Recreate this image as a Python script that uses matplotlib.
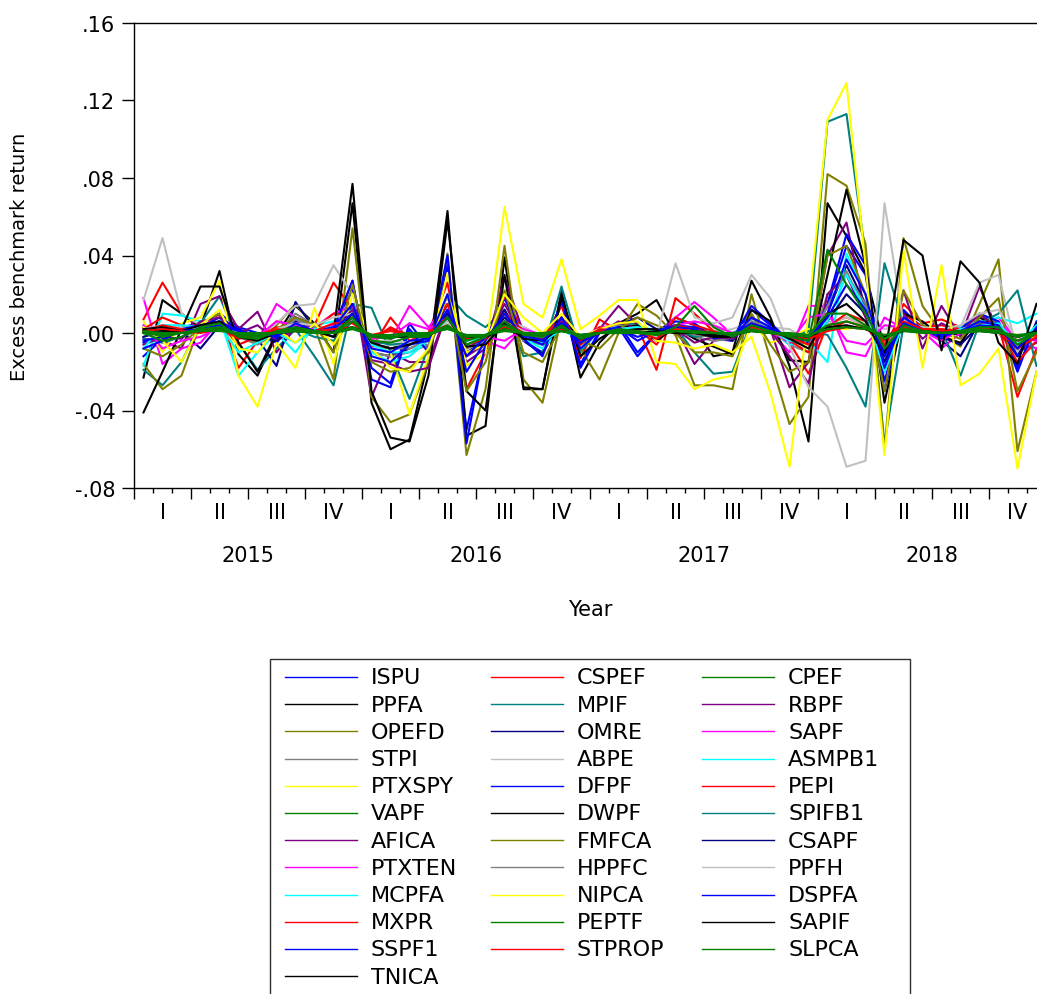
import numpy as np
import matplotlib
matplotlib.use('Agg')
import matplotlib.pyplot as plt
from matplotlib.lines import Line2D
from matplotlib.patches import Rectangle

plt.rcParams['font.family'] = ['DejaVu Sans']
plt.rcParams['font.size'] = 15

years = [2015, 2016, 2017, 2018]
quarters = ['I', 'II', 'III', 'IV']

# monthly excess benchmark returns, Jan 2015 - Dec 2018 (one year per line)
ISPU = [-.012, -.003, .003, .005, .010, .003, .000, -.005, .006, .001, .004, .022,
        -.018, -.026, .005, -.008, .035, -.050, -.006, .018, -.004, -.010, .015, -.016,
        .001, .005, -.010, .000, .008, .004, -.003, -.004, .012, .004, -.004, -.005,
        .014, .045, .030, -.025, .011, .003, -.002, .002, .009, .005, -.018, .004]
CSPEF = [.007, .026, .010, .002, .010, -.018, -.004, .006, .004, .004, .026, .012,
         -.008, .008, -.004, .000, .026, -.029, -.010, .019, .001, -.004, .014, -.013,
         .007, .001, .003, -.019, .018, .010, .001, -.003, .008, .002, -.005, -.021,
         .005, .008, .004, -.010, .015, .005, .007, .003, .008, .004, -.033, -.008]
CPEF = [.001, -.002, .000, .002, .003, -.001, -.002, .000, .002, .001, .000, .006,
        -.002, -.003, .000, -.001, .004, -.004, -.001, .004, .000, -.001, .003, -.002,
        .000, .001, .000, -.001, .001, .001, .000, -.001, .002, .000, -.001, -.002,
        .004, .006, .003, -.003, .002, .001, .000, .001, .002, .001, -.004, .000]
PPFA = [-.023, .017, .010, .003, .032, -.011, -.022, -.001, .014, .005, -.010, .067,
        -.036, -.060, -.055, -.014, .063, -.053, -.048, .039, -.029, -.029, .022, -.023,
        -.005, .005, .010, .017, -.001, .002, -.012, -.010, .027, .008, -.017, -.056,
        .067, .050, .031, -.008, .004, .002, -.002, .000, .004, .002, -.008, .003]
MPIF = [-.019, -.027, -.015, .005, .019, -.005, -.019, -.008, .002, -.012, -.027, .015,
        .013, -.010, -.034, -.007, .020, .009, .003, .012, -.012, -.010, .024, -.010,
        .002, .004, .005, -.002, .003, -.010, -.021, -.020, .006, .002, -.006, .001,
        .109, .113, .040, -.057, .004, .002, -.002, .003, .006, .003, -.010, .002]
RBPF = [-.003, -.004, -.008, .015, .019, .002, .011, -.010, .003, .002, .002, .027,
        -.033, -.010, -.015, -.015, .012, -.015, -.008, .029, .000, -.006, .005, -.005,
        .002, .014, .004, .000, .003, -.016, -.004, -.002, .008, .002, -.028, -.015,
        .040, .057, .010, -.020, .022, -.008, .014, -.002, .024, .000, -.010, -.005]
OPEFD = [-.016, -.029, -.022, .005, .010, -.002, -.005, .004, .015, .003, -.024, .054,
         -.033, -.046, -.042, -.015, .041, -.063, -.029, .045, -.024, -.036, .008, -.008,
         -.024, .000, .015, .009, -.001, -.027, -.027, -.029, .020, -.014, -.047, -.033,
         .082, .076, .046, -.060, .049, .014, .000, -.007, .015, .038, -.061, -.020]
OMRE = [.003, -.002, .001, -.008, .004, .002, -.003, -.017, .016, .002, -.002, .015,
        -.010, -.012, -.008, -.004, .015, -.010, -.004, .012, -.004, -.011, .008, -.006,
        .002, .004, .008, .002, .004, .000, -.002, -.004, .008, .002, -.006, -.004,
        .010, .035, .015, -.015, .008, .002, -.004, -.012, .006, .002, -.012, .002]
SAPF = [.018, -.016, -.008, -.005, .006, -.002, -.004, .015, .008, .003, .010, .014,
        -.006, -.004, .014, .003, .015, -.006, -.004, -.008, .003, -.002, .006, -.004,
        .003, .004, .002, -.002, .008, .016, .008, -.001, .005, .001, -.010, .014,
        .014, -.010, -.012, .008, .002, .001, -.008, .000, .004, .008, -.004, -.008]
STPI = [-.002, .002, .003, .001, .005, -.002, -.006, .000, .010, .004, .000, .010,
        -.010, -.012, -.010, -.006, .010, -.012, -.006, .010, -.004, -.006, .006, -.004,
        .000, .004, .003, .000, .004, -.002, -.004, -.003, .008, .003, -.006, -.010,
        .020, .030, .015, -.012, .008, .002, .000, .001, .008, .006, -.010, .002]
ABPE = [.017, .049, .010, .004, .006, .000, -.004, .005, .014, .015, .035, .020,
        -.008, -.006, -.008, -.004, .010, -.006, -.003, .008, .003, -.002, .005, -.003,
        .002, .003, .004, .000, .004, .002, .001, .002, .006, .003, .002, -.004,
        .005, .008, .004, .002, .005, .003, .000, .003, .026, .030, -.010, .000]
ASMPB1 = [-.017, .010, .009, .006, .008, -.022, -.010, .000, -.010, .004, .006, .012,
          -.010, -.015, -.012, -.004, .010, -.006, -.002, .006, -.003, -.008, .002, -.004,
          .002, .003, .004, .001, .003, .002, .001, -.001, .006, .002, -.006, -.004,
          -.015, .041, .020, -.010, .006, .004, .000, .003, .006, .008, .005, .010]
PTXSPY = [.006, -.010, .005, .008, .027, -.022, -.038, -.005, -.018, .013, -.016, .020,
          -.005, -.010, -.042, -.012, .031, -.017, -.010, .065, .015, .008, .038, .002,
          .009, .017, .017, -.015, -.016, -.029, -.024, -.022, .005, -.005, -.002, .002,
          .003, .002, .004, -.004, .003, .002, -.001, .001, .002, .000, -.006, -.002]
DFPF = [-.005, .000, .003, .003, .008, .002, -.002, -.003, .008, .002, .002, .027,
        -.024, -.028, .002, -.010, .040, -.057, -.005, .020, -.003, -.012, .017, -.018,
        .000, .003, -.012, .000, .006, .005, -.002, -.003, .014, .005, -.004, -.005,
        .015, .051, .035, -.030, .012, .002, -.003, .002, .010, .006, -.020, .006]
PEPI = [.002, .008, .004, .001, .005, -.006, -.002, .003, .002, .002, .010, .008,
        -.004, .003, -.002, .000, .015, -.012, -.005, .010, .001, -.002, .008, -.006,
        .003, .001, .002, -.006, .008, .004, .001, -.002, .005, .001, -.004, -.010,
        .003, .010, .006, -.006, .010, .003, .004, .002, .005, .002, -.015, -.004]
VAPF = [.000, -.004, -.002, .003, .005, -.002, -.003, .001, .003, .001, .000, .008,
        -.004, -.005, -.002, -.002, .008, -.006, -.002, .006, -.001, -.002, .004, -.003,
        .000, .002, .001, -.001, .003, .014, .003, -.002, .004, .001, -.002, -.004,
        .043, .025, .010, -.008, .004, .001, .000, .001, .003, .003, -.006, .000]
DWPF = [-.041, -.020, .002, .024, .024, -.005, -.020, .000, .008, .004, .000, .077,
        -.030, -.054, -.056, -.022, .058, -.030, -.040, .030, -.028, -.029, .019, -.012,
        -.003, .003, .004, -.004, .003, -.003, -.007, -.011, .012, .006, -.014, -.015,
        .030, .074, .035, -.036, .010, .006, -.002, -.005, .008, .003, -.012, .005]
SPIFB1 = [-.003, -.005, -.002, .002, .004, -.001, -.003, -.001, .002, -.002, -.004, .006,
          -.004, -.006, -.005, -.002, .006, -.003, -.002, .004, -.002, -.002, .004, -.003,
          .001, .002, .001, .000, .002, -.002, -.001, .000, .004, .001, -.003, .001,
          -.001, -.018, -.038, .036, .005, .000, .002, -.022, .005, .010, .022, -.017]
AFICA = [-.006, -.002, -.003, .006, .008, .000, .004, -.004, .002, .000, .002, .012,
         -.014, -.016, -.020, -.018, .012, -.012, -.005, .015, -.003, -.003, .006, -.005,
         .000, .006, .002, -.002, .002, -.005, -.002, -.003, .005, .001, -.012, -.026,
         .020, .030, .008, -.012, .010, -.003, .005, .000, .010, .002, -.006, -.003]
FMFCA = [-.008, -.012, -.006, .003, .005, -.002, -.004, .002, .008, .004, -.010, .025,
         -.015, -.020, -.018, -.010, .020, -.030, -.015, .022, -.010, -.015, .004, -.004,
         -.008, .002, .008, .004, .000, -.010, -.010, -.012, .010, -.006, -.020, -.015,
         .040, .045, .020, -.030, .022, .004, .000, -.003, .008, .018, -.030, -.010]
CSAPF = [-.002, .001, .002, .001, .004, .000, -.002, -.004, .006, .001, .000, .008,
         -.006, -.008, -.006, -.002, .010, -.008, -.003, .008, -.002, -.005, .004, -.004,
         .001, .002, .003, .001, .002, .000, -.001, -.002, .005, .001, -.003, -.003,
         .006, .020, .010, -.010, .005, .001, -.002, -.006, .004, .001, -.008, .001]
PTXTEN = [.004, -.008, -.004, -.002, .003, -.001, -.002, .006, .004, .002, .004, .006,
          -.003, -.002, .005, .002, .008, -.003, -.002, -.004, .002, -.001, .003, -.002,
          .002, .002, .001, -.001, .004, .006, .004, .000, .002, .001, -.005, .008,
          .010, -.004, -.006, .004, .003, .001, -.004, .002, .002, .004, -.002, -.004]
HPPFC = [.000, .002, .002, .001, .004, -.001, -.004, .000, .007, .003, .002, .008,
         -.006, -.008, -.008, -.004, .008, -.008, -.004, .006, -.002, -.004, .004, -.002,
         .000, .002, .002, .000, .003, -.001, -.002, -.002, .006, .002, -.004, -.006,
         .014, .032, .010, -.008, .006, .002, .000, .001, .006, .004, -.006, .001]
PPFH = [.002, .004, .003, .002, .004, .000, -.002, .002, .005, .004, .008, .010,
        -.004, -.004, -.005, -.002, .006, -.004, -.002, .006, .001, -.002, .003, -.002,
        .002, .002, .003, -.002, .036, .008, .005, .008, .030, .018, -.007, -.028,
        -.038, -.069, -.066, .067, .005, .003, .002, .004, .010, .012, -.004, .002]
MCPFA = [-.008, .004, .004, .003, .004, -.010, -.005, .000, -.005, .002, .003, .008,
         -.006, -.010, -.010, -.003, .008, -.004, -.002, .004, -.002, -.005, .002, -.003,
         .001, .002, .003, .001, .002, .001, .000, -.001, .004, .001, -.004, -.003,
         .006, .030, .012, -.020, .005, .002, -.002, .002, .004, .005, -.006, .004]
NIPCA = [.003, -.004, -.015, .004, .012, -.008, -.010, .002, -.005, .005, -.006, .010,
         -.008, -.018, -.020, -.008, .020, -.010, -.006, .020, .008, .000, .010, -.002,
         .002, .005, .006, -.004, -.005, -.008, -.006, -.010, -.002, -.031, -.069, .010,
         .110, .129, .035, -.063, .043, -.018, .035, -.027, -.021, -.008, -.070, -.020]
DSPFA = [-.008, -.004, .002, .004, .006, .001, -.001, -.002, .005, .001, .003, .015,
         -.012, -.015, -.006, -.004, .020, -.020, -.004, .010, -.002, -.006, .008, -.008,
         .001, .003, -.004, .001, .004, .003, -.001, -.002, .008, .003, -.003, -.004,
         .010, .038, .020, -.018, .008, .002, -.002, .001, .006, .004, -.012, .003]
MXPR = [.001, .004, .002, .001, .003, -.003, -.001, .002, .001, .001, .005, .005,
        -.002, .002, -.001, .000, .008, -.006, -.003, .006, .000, -.001, .004, -.004,
        .002, .001, .001, -.003, .004, .002, .000, -.001, .003, .000, -.002, -.006,
        .002, .006, .003, -.004, .006, .002, .002, .001, .003, .001, -.008, -.002]
PEPTF = [.000, -.001, .000, .001, .002, -.001, -.001, .000, .001, .000, .000, .003,
         -.001, -.002, -.001, -.001, .003, -.002, -.001, .002, .000, -.001, .001, -.001,
         .000, .000, .000, .000, .001, .001, .000, -.001, .001, .000, -.001, -.001,
         .010, .010, .004, -.003, .002, .001, .000, .000, .001, .001, -.002, .000]
SAPIF = [.002, .003, .001, .004, .006, -.002, -.004, .000, .003, .001, -.002, .010,
         -.005, -.008, -.006, -.002, .008, -.007, -.006, .005, -.003, -.004, .003, -.003,
         .000, .001, .002, .002, .000, .000, -.002, -.002, .004, .002, -.003, -.008,
         .010, .015, .006, -.012, .048, .040, -.009, .037, .026, -.005, -.016, .015]
SSPF1 = [-.004, -.002, .001, .002, .004, .001, -.001, -.001, .003, .001, .002, .010,
         -.008, -.010, -.004, -.003, .012, -.012, -.002, .006, -.001, -.004, .005, -.005,
         .001, .002, -.002, .001, .003, .002, -.001, -.001, .005, .002, -.002, -.003,
         .008, .025, .012, -.012, .005, .001, -.001, .001, .004, .003, -.008, .002]
STPROP = [.001, .002, .001, .000, .002, -.001, -.001, .001, .001, .001, .002, .003,
          -.001, .001, -.001, .000, .004, -.003, -.001, .003, .000, -.001, .002, -.002,
          .001, .000, .001, -.001, .002, .001, .000, -.001, .002, .000, -.001, -.003,
          .001, .003, .002, -.002, .003, .001, .001, .001, .002, .001, -.004, -.001]
SLPCA = [.001, .000, .000, .001, .001, .000, .000, .000, .001, .000, .000, .002,
         -.001, -.001, .000, .000, .002, -.001, -.001, .001, .000, .000, .001, -.001,
         .000, .000, .000, .000, .001, .000, .000, .000, .001, .000, .000, -.001,
         .002, .003, .002, -.001, .001, .000, .000, .000, .001, .000, -.001, .000]
TNICA = [.000, .001, .000, .001, .002, -.001, -.001, .000, .001, .000, .000, .003,
         -.001, -.002, -.002, -.001, .003, -.002, -.002, .002, -.001, -.001, .001, -.001,
         .000, .000, .000, .001, .000, .000, -.001, -.001, .001, .000, -.001, -.002,
         .003, .004, .002, -.002, .001, .001, .000, .001, .001, .000, -.002, .001]

series = [
    ('ISPU', ISPU, '#0000FF'), ('CSPEF', CSPEF, '#FF0000'), ('CPEF', CPEF, '#008000'),
    ('PPFA', PPFA, '#000000'), ('MPIF', MPIF, '#008080'), ('RBPF', RBPF, '#800080'),
    ('OPEFD', OPEFD, '#808000'), ('OMRE', OMRE, '#000080'), ('SAPF', SAPF, '#FF00FF'),
    ('STPI', STPI, '#808080'), ('ABPE', ABPE, '#C0C0C0'), ('ASMPB1', ASMPB1, '#00FFFF'),
    ('PTXSPY', PTXSPY, '#FFFF00'), ('DFPF', DFPF, '#0000FF'), ('PEPI', PEPI, '#FF0000'),
    ('VAPF', VAPF, '#008000'), ('DWPF', DWPF, '#000000'), ('SPIFB1', SPIFB1, '#008080'),
    ('AFICA', AFICA, '#800080'), ('FMFCA', FMFCA, '#808000'), ('CSAPF', CSAPF, '#000080'),
    ('PTXTEN', PTXTEN, '#FF00FF'), ('HPPFC', HPPFC, '#808080'), ('PPFH', PPFH, '#C0C0C0'),
    ('MCPFA', MCPFA, '#00FFFF'), ('NIPCA', NIPCA, '#FFFF00'), ('DSPFA', DSPFA, '#0000FF'),
    ('MXPR', MXPR, '#FF0000'), ('PEPTF', PEPTF, '#008000'), ('SAPIF', SAPIF, '#000000'),
    ('SSPF1', SSPF1, '#0000FF'), ('STPROP', STPROP, '#FF0000'), ('SLPCA', SLPCA, '#008000'),
    ('TNICA', TNICA, '#000000'),
]

W, H = 1037, 995
fig = plt.figure(figsize=(W / 100, H / 100), dpi=100)
# plot frame runs past the right edge of the picture, as in the reference
ax = fig.add_axes([134 / W, 1 - 489 / H, 912 / W, 465 / H])

x = np.arange(len(ISPU)) + 0.5
for name, vals, col in series:
    # the flat green lines sit on top of the bundle near zero
    z = 2.5 if col == '#008000' else 2
    ax.plot(x, vals, color=col, lw=1.5, zorder=z)

ax.set_xlim(0, 48)
ax.set_ylim(-0.08, 0.16)
yt = np.arange(-0.08, 0.161, 0.04)
ax.set_yticks(yt)
ax.set_yticklabels([('%.2f' % v).replace('0.', '.') for v in yt])
ax.set_xticks(np.arange(0, 49, 3))
ax.set_xticks(np.arange(0, 49, 1), minor=True)
ax.tick_params(axis='x', which='major', length=8, width=1, labelbottom=False, direction='out')
ax.tick_params(axis='x', which='minor', length=3.6, width=1, direction='out')
ax.tick_params(axis='y', length=8.5, width=1, pad=5, direction='out')
ax.spines['right'].set_visible(False)
for s in ['left', 'bottom', 'top']:
    ax.spines[s].set_linewidth(1.0)

tr = ax.get_xaxis_transform()
for yi, yr in enumerate(years):
    for qi, q in enumerate(quarters):
        ax.text(yi * 12 + qi * 3 + 1.5, -24 / 465, q, transform=tr,
                ha='center', va='center', clip_on=False)
    ax.text(yi * 12 + 6, -67 / 465, str(yr), transform=tr,
            ha='center', va='center', clip_on=False)
ax.text(24, -121 / 465, 'Year', transform=tr, ha='center', va='center', clip_on=False)

fig.text(20 / W, 1 - 257 / H, 'Excess benchmark return', rotation=90,
         ha='center', va='center', fontsize=14)

# legend box (bottom edge falls below the picture)
fig.add_artist(Rectangle((270 / W, -0.01), 640 / W, (H - 660) / H + 0.01,
                         transform=fig.transFigure, fill=False,
                         edgecolor='#303030', lw=1.0))
col_x = [285, 491, 702]
for k, (name, vals, col) in enumerate(series):
    r, c = divmod(k, 3)
    yc = 677 + 27.2 * r
    x0 = col_x[c]
    fig.add_artist(Line2D([x0 / W, (x0 + 72) / W], [1 - (yc + 1) / H] * 2,
                          transform=fig.transFigure, color=col, lw=1.0))
    fig.text((x0 + 86) / W, 1 - (yc + 7.5) / H, name, ha='left', va='baseline',
             fontsize=16)

fig.savefig('out.png', dpi=100)
